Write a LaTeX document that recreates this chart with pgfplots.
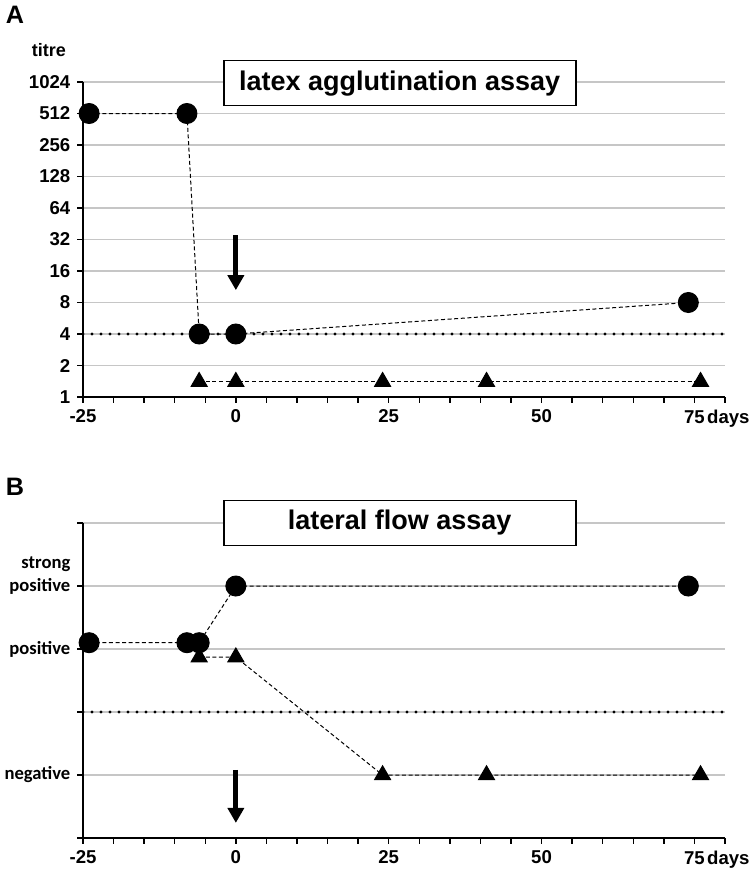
\documentclass[border=0pt]{standalone}
\usepackage{fontspec}
\setmainfont{Liberation Sans}
\newfontfamily\carlito{Carlito}
\usepackage{pgfplots}
\pgfplotsset{compat=1.18}
\usetikzlibrary{arrows.meta}

\pgfplotsset{
  panel/.style={
    scale only axis, width=321pt, height=157.5pt,
    xmin=-25, xmax=80,
    axis x line=bottom, axis y line=left,
    axis line style={-, line width=0.9pt},
    xtick={-25,0,25,50,75},
    xticklabels={-25,0,25,50,{75\rlap{\hspace{1.2pt}days}}},
    minor xtick={-20,-15,...,80},
    tick align=outside, major tick length=2.8pt, minor tick length=2.8pt,
    tick style={black, line width=0.7pt},
    ymajorgrids, grid style={gray!45, line width=0.6pt},
    tick label style={font=\fontsize{9.3}{10}\selectfont\bfseries},
    /pgf/number format/assume math mode=true,
    clip=false,
  },
}
\tikzset{
  series/.style={black, line width=0.5pt, dash pattern=on 2pt off 1.3pt, mark options={solid, fill=black}},
  circ/.style={series, mark=*, mark size=5pt},
  tri/.style={series, mark=triangle*, mark size=4.6pt},
  cutoff/.style={black, line width=1.6pt, dash pattern=on 0pt off 4.5pt, line cap=round},
  arr/.style={line width=2.6pt, -{Triangle[width=8pt,length=7.5pt]}},
  titlebox/.style={draw, fill=white, line width=0.8pt, minimum width=176pt, minimum height=22.5pt, font=\fontsize{13.5}{15}\selectfont\bfseries},
}

\begin{document}
\begin{tikzpicture}
\path[use as bounding box] (-41.5pt,-238pt) rectangle (333pt,198.5pt);

% panel A: latex agglutination
\begin{axis}[panel, at={(0,0)},
  ymode=log, log basis y=2, ymin=1, ymax=1024,
  ytick={1,2,4,8,16,32,64,128,256,512,1024},
  yticklabels={1,2,4,8,16,32,64,128,256,512,1024},
]
\addplot[cutoff] coordinates {(-25,4) (80,4)};
\addplot[circ] coordinates {(-24,512) (-8,512) (-6,4) (0,4) (74,8)};
\addplot[tri] coordinates {(-6,1.4) (0,1.4) (24,1.4) (41,1.4) (76,1.4)};
\draw[arr] (axis cs:0,35) -- (axis cs:0,10.5);
\node[titlebox] at (axis cs:26.8,1000) {latex agglutination assay};
\node[font=\fontsize{9}{10}\selectfont\bfseries] at ([xshift=-17pt,yshift=16pt]rel axis cs:0,1) {titre};
\node[font=\fontsize{12.6}{14}\selectfont\bfseries] at ([xshift=-34pt,yshift=33.5pt]rel axis cs:0,1) {A};
\end{axis}

% panel B: lateral flow
\begin{axis}[panel, at={(0,-220.5pt)},
  ymin=0, ymax=5, ytick={0,1,2,3,4,5},
  yticklabels={,negative,,positive,{positive\llap{\raisebox{11.5pt}[0pt][0pt]{strong}}},},
  yticklabel style={font=\carlito\fontsize{9.3}{11}\selectfont\bfseries},
]
\addplot[cutoff] coordinates {(-25,2) (80,2)};
\addplot[circ] coordinates {(-24,3.1) (-8,3.1) (-6,3.1) (0,4) (74,4)};
\addplot[tri] coordinates {(-6,2.87) (0,2.87) (24,1) (41,1) (76,1)};
\draw[arr] (axis cs:0,1.08) -- (axis cs:0,0.24);
\node[titlebox] at (axis cs:26.8,5) {lateral flow assay};
\node[font=\fontsize{12.6}{14}\selectfont\bfseries] at ([xshift=-34pt,yshift=18pt]rel axis cs:0,1) {B};
\end{axis}
\end{tikzpicture}
\end{document}
